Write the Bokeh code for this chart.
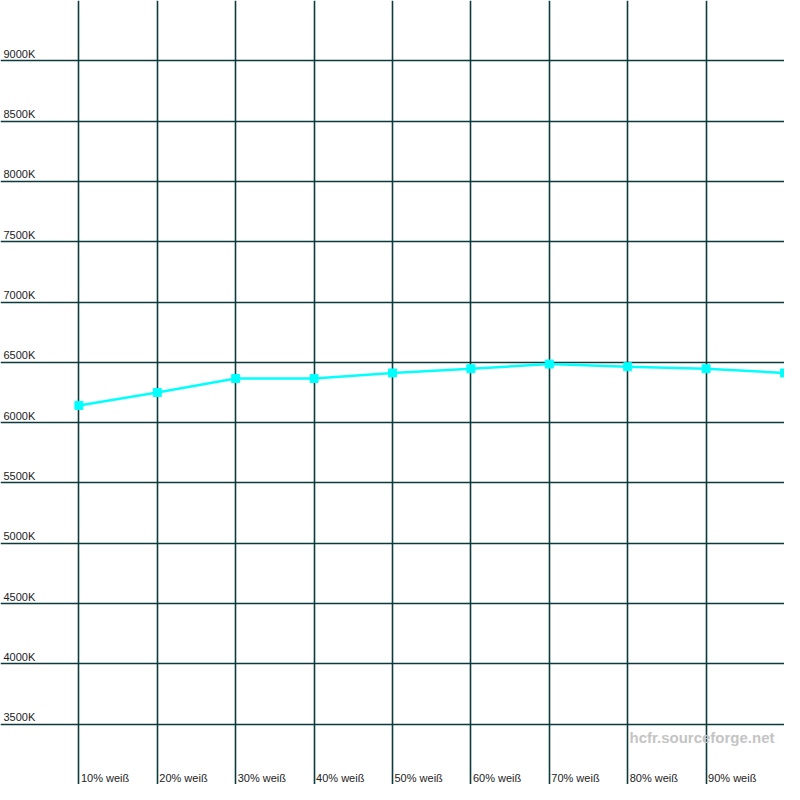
from bokeh.plotting import figure
from bokeh.models import ColumnDataSource, FixedTicker, Range1d
from bokeh.core.properties import value
from bokeh.embed import file_html
from bokeh.resources import INLINE

# ---- data ----
percent = [10, 20, 30, 40, 50, 60, 70, 80, 90, 100]
temperature = [6143, 6250, 6366, 6366, 6412, 6447, 6486, 6464, 6447, 6412]

y_ticks = [3500, 4000, 4500, 5000, 5500, 6000, 6500, 7000, 7500, 8000, 8500, 9000]
y_tick_labels = ["3500K", "4000K", "4500K", "5000K", "5500K", "6000K",
                 "6500K", "7000K", "7500K", "8000K", "8500K", "9000K"]
x_ticks = [10, 20, 30, 40, 50, 60, 70, 80, 90]
x_tick_labels = ["10% weiß", "20% weiß", "30% weiß", "40% weiß", "50% weiß",
                 "60% weiß", "70% weiß", "80% weiß", "90% weiß"]
x_grid = [0, 10, 20, 30, 40, 50, 60, 70, 80, 90]
watermark = "hcfr.sourceforge.net"

X_MIN, X_MAX = 0, 100
Y_MIN, Y_MAX = 3000, 9500

GRID = "#0b3b3b"
CYAN = "#00ffff"
FONT = "Liberation Sans"

p = figure(width=784, height=784, output_backend="svg", toolbar_location=None,
           x_range=Range1d(X_MIN, X_MAX), y_range=Range1d(Y_MIN, Y_MAX),
           min_border=0, min_border_left=0, min_border_right=0,
           min_border_top=0, min_border_bottom=0)
p.background_fill_color = "white"
p.border_fill_color = "white"
p.outline_line_color = None
p.xaxis.visible = False
p.yaxis.visible = False

p.xgrid.ticker = FixedTicker(ticks=x_grid)
p.ygrid.ticker = FixedTicker(ticks=y_ticks)
for g in (p.xgrid, p.ygrid):
    g.grid_line_color = GRID
    g.grid_line_width = 1.6
    g.grid_line_alpha = 1.0

# y tick labels inside the plot, just above each line
ysrc = ColumnDataSource(dict(x=[X_MIN] * len(y_ticks), y=y_ticks, t=y_tick_labels))
p.text(x="x", y="y", text="t", source=ysrc, x_offset=3, y_offset=-1,
       text_baseline="bottom", text_align="left",
       text_font=value(FONT), text_font_size="11px", text_color="#222222")

# x tick labels at the bottom
xsrc = ColumnDataSource(dict(x=x_ticks, y=[Y_MIN] * len(x_ticks), t=x_tick_labels))
p.text(x="x", y="y", text="t", source=xsrc, x_offset=2, y_offset=-1,
       text_baseline="bottom", text_align="left",
       text_font=value(FONT), text_font_size="11px", text_color="#222222")

# watermark
wsrc = ColumnDataSource(dict(x=[X_MAX], y=[Y_MIN], t=[watermark]))
p.text(x="x", y="y", text="t", source=wsrc, x_offset=-10, y_offset=-47,
       text_baseline="middle", text_align="right",
       text_font=value(FONT), text_font_size="15px", text_font_style="bold",
       text_color="#c4c4c4")

# series
src = ColumnDataSource(dict(x=percent, y=temperature))
p.line(x="x", y="y", source=src, line_color=CYAN, line_width=2.5)
p.scatter(x="x", y="y", source=src, marker="square", size=8,
          fill_color=CYAN, line_color=CYAN)

open("out.html", "w").write(file_html(p, INLINE))
